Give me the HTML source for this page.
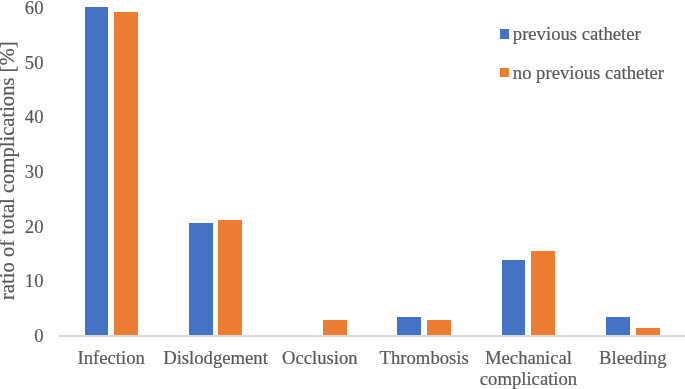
<!DOCTYPE html>
<html><head><meta charset="utf-8">
<style>
html,body{margin:0;padding:0;background:#fff;}
body{width:685px;height:389px;position:relative;overflow:hidden;font-family:"Liberation Serif",serif;font-size:18.67px;color:#595959;}
.b{position:absolute;width:23.6px;}
.bl{background:#4472C4;}
.or{background:#ED7D31;}
.t{position:absolute;white-space:nowrap;line-height:21.2px;-webkit-text-stroke:0.2px #595959;}
.yt{right:641.5px;text-align:right;}
.xl{text-align:center;width:140px;}
#wrap{position:absolute;left:0;top:0;width:685px;height:389px;will-change:transform;}
#axis{position:absolute;left:59px;top:335px;width:626px;height:1.5px;background:#D9D9D9;}
</style></head><body>
<div id="wrap"><div id="axis"></div>
<!-- bars: bottom at 335 -->
<div class="b bl" style="left:84.5px;width:23.8px;top:7.15px;height:328.25px"></div>
<div class="b or" style="left:114.1px;width:24.0px;top:12.15px;height:323.25px"></div>
<div class="b bl" style="left:188.8px;width:23.8px;top:222.95px;height:112.45px"></div>
<div class="b or" style="left:218.4px;width:24.0px;top:220.15px;height:115.25px"></div>
<div class="b or" style="left:322.6px;width:24.0px;top:320.25px;height:15.15px"></div>
<div class="b bl" style="left:397.4px;width:23.8px;top:317.05px;height:18.35px"></div>
<div class="b or" style="left:426.9px;width:24.0px;top:320.25px;height:15.15px"></div>
<div class="b bl" style="left:501.7px;width:23.8px;top:260.25px;height:75.15px"></div>
<div class="b or" style="left:531.2px;width:24.0px;top:251.15px;height:84.25px"></div>
<div class="b bl" style="left:606.0px;width:23.8px;top:317.15px;height:18.25px"></div>
<div class="b or" style="left:635.6px;width:24.0px;top:328.15px;height:7.25px"></div>
<!-- y ticks: baseline = value y + 7 -->
<div class="t yt" style="top:-3px">60</div>
<div class="t yt" style="top:51.7px">50</div>
<div class="t yt" style="top:106.3px">40</div>
<div class="t yt" style="top:161px">30</div>
<div class="t yt" style="top:215.7px">20</div>
<div class="t yt" style="top:270.3px">10</div>
<div class="t yt" style="top:325px">0</div>
<!-- x labels -->
<div class="t xl" style="left:41.2px;top:346.5px">Infection</div>
<div class="t xl" style="left:145.5px;top:346.5px">Dislodgement</div>
<div class="t xl" style="left:249.8px;top:346.5px">Occlusion</div>
<div class="t xl" style="left:354.2px;top:346.5px">Thrombosis</div>
<div class="t xl" style="left:458.5px;top:346.5px">Mechanical<br>complication</div>
<div class="t xl" style="left:562.8px;top:346.5px">Bleeding</div>
<!-- y title -->
<div class="t" id="ytitle" style="left:0;top:0;transform-origin:0 0;font-size:20.6px;transform:translate(-2.85px,300px) rotate(-90deg);">ratio of total complications [%]</div>
<!-- legend -->
<div style="position:absolute;left:500px;top:29.4px;width:9.2px;height:9.2px;background:#4472C4"></div>
<div class="t" style="left:512.8px;top:22.7px">previous catheter</div>
<div style="position:absolute;left:500px;top:67.8px;width:9.2px;height:9.2px;background:#ED7D31"></div>
<div class="t" style="left:512.8px;top:61.7px">no previous catheter</div>
</div></body></html>
